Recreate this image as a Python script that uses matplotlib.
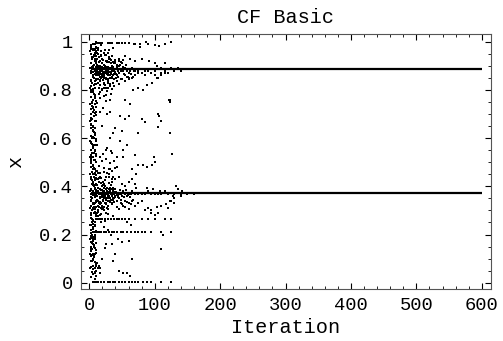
import matplotlib
matplotlib.use("Agg")
import matplotlib.pyplot as plt
from matplotlib.ticker import MultipleLocator

# ---- data ----
fixed_points = [0.885, 0.372]          # converged x values
line_start = [3, 3]
line_end = [600, 600]

# dense early column (iteration, x)
col_iter = [2,3,4,2,5,3,6,2,4,7,3,5,2,6,4,8,3,5,2,7,4,3,6,2,5,8,3,4,2,6,5,3,7,2,4,9,3,6,2,5,4,8,3,2,6,4,7,3,5,2,9,4,3,6,2,5,4,7,3,2,6,4,3,5,2,8,4,3,6,2,5,3,4,2,6,3,5,4,
            5,7,8,6,9,7,10,8,9,6,10,8,9,7,10,8,6,11,9,7,10,8,11,9,7,10,8,6,9,7,8,6,9,8,11,
            1,1,1,1,1,1,1,1,1,1,1,1,1,1,
            10,10,10,10,9,9,8,8]
col_x = [0.98,0.95,0.93,0.91,0.90,0.87,0.86,0.84,0.83,0.82,0.80,0.79,0.77,0.76,0.75,0.74,0.72,0.71,0.70,0.69,0.68,0.66,0.65,0.64,0.63,0.62,0.61,0.60,0.58,0.57,0.56,0.55,0.54,0.53,0.52,0.51,0.50,0.49,0.48,0.47,0.46,0.45,0.44,0.43,0.42,0.41,0.40,0.39,0.38,0.37,0.36,0.35,0.34,0.33,0.32,0.31,0.30,0.29,0.28,0.27,0.26,0.25,0.24,0.23,0.22,0.21,0.20,0.19,0.18,0.17,0.16,0.15,0.14,0.13,0.12,0.11,0.10,0.09,
         0.97,0.94,0.92,0.89,0.88,0.85,0.84,0.81,0.78,0.73,0.71,0.67,0.64,0.60,0.59,0.55,0.52,0.50,0.47,0.44,0.43,0.39,0.37,0.33,0.31,0.28,0.25,0.21,0.19,0.15,0.12,0.07,0.06,0.04,0.03,
         0.96,0.89,0.81,0.74,0.67,0.59,0.52,0.45,0.38,0.31,0.24,0.18,0.12,0.06,
         1.00,0.98,0.96,0.94,0.99,0.95,0.97,0.93]

col2_iter = [3,5,7,9,11,4,6,8,10,2,3,5,7,9,11,4,6,8,10,2,3,5,7,9,11,4,6,8,10,2,3,5,7,9,11,4,6,8,10,2,3,5,7,9,11,4,6,8,10,2,3,5,7,9,11,4,6,8,10,2,
             6,2,9,4,11,7,3,10,5,8,6,2,9,4,11,7,3,10,5,8,6,2,9,4,11,7,3,10,5,8,6,2,9,4,11,7,3,10,5,8,6,2,9,4,11,7,3,10,5,8,6,2,9,4,11,7,3,10,5,8]
col2_x = [0.985,0.965,0.945,0.925,0.915,0.895,0.875,0.865,0.845,0.835,0.815,0.795,0.785,0.765,0.755,0.735,0.725,0.705,0.695,0.675,0.655,0.645,0.625,0.615,0.595,0.575,0.565,0.545,0.535,0.515,0.505,0.485,0.475,0.455,0.435,0.425,0.405,0.395,0.375,0.355,0.345,0.325,0.315,0.295,0.285,0.265,0.245,0.235,0.215,0.205,0.185,0.175,0.155,0.145,0.125,0.115,0.095,0.085,0.075,0.065,
          0.99,0.97,0.955,0.935,0.92,0.905,0.88,0.87,0.855,0.825,0.805,0.79,0.775,0.745,0.73,0.715,0.685,0.67,0.635,0.62,0.605,0.585,0.57,0.54,0.525,0.51,0.495,0.465,0.45,0.43,0.415,0.385,0.365,0.35,0.335,0.305,0.29,0.275,0.255,0.24,0.225,0.195,0.18,0.165,0.135,0.105,0.09,0.07,0.055,0.045,0.035,0.025,0.015,0.045,0.08,0.11,0.14,0.165,0.19,0.2]

# cluster around the upper fixed point
up_iter = [12,14,15,17,18,20,22,13,16,19,21,23,25,26,28,30,24,27,29,31,33,35,32,34,36,38,40,42,44,46,37,39,41,43,45,48,50,52,55,58,60,62,65,68,70,
           12,14,16,18,11,13,15,17,20,22,24,26,28,11,13,15,17,19,21,23,25,27,29,31,33,35,20,30,40,45,50,55,60,65,70,75,80,85,90,95,100,105,110,115,120,125,130,135,140,100,110,75,85,
           31,38,45,54,62,70,81,91,101,116,104,67,75,82,88,96,104,109,115,22,29,17,25,32,55,62,122,124]
up_x = [0.88,0.86,0.89,0.87,0.85,0.88,0.86,0.90,0.84,0.91,0.87,0.89,0.87,0.85,0.88,0.86,0.90,0.92,0.84,0.89,0.87,0.88,0.85,0.90,0.86,0.88,0.87,0.89,0.88,0.87,0.83,0.91,0.85,0.86,0.90,0.88,0.88,0.88,0.89,0.88,0.87,0.88,0.89,0.88,0.88,
        0.93,0.95,0.92,0.94,0.86,0.83,0.81,0.82,0.80,0.83,0.82,0.81,0.83,0.91,0.87,0.86,0.90,0.86,0.84,0.85,0.92,0.88,0.87,0.86,0.91,0.85,0.93,0.93,0.92,0.93,0.91,0.86,0.85,0.85,0.86,0.87,0.87,0.86,0.88,0.87,0.86,0.85,0.87,0.88,0.87,0.89,0.88,0.89,0.88,0.88,0.89,0.88,0.88,
        0.93,0.91,0.92,0.94,0.93,0.92,0.93,0.92,0.91,0.91,0.90,0.80,0.81,0.80,0.82,0.83,0.85,0.86,0.87,0.81,0.81,0.79,0.78,0.76,0.76,0.74,0.76,0.75]

up2_iter = [6,8,10,12,14,16,18,20,22,24,26,28,30,32,34,36,38,
            7,9,11,13,15,17,19,21,23,25,27,29,31,33,35,37,39,41,43,
            6,9,12,15,18,21,24,27,30,33,36,
            8,11,14,17,20,23,26,29,32,35,38,
            10,14,18,22,26,30,34,
            12,16,20,24,28,
            13,17,21,25,29]
up2_x = [0.875,0.865,0.895,0.905,0.875,0.855,0.895,0.865,0.905,0.875,0.885,0.845,0.915,0.875,0.855,0.895,0.865,
         0.905,0.925,0.845,0.885,0.915,0.865,0.895,0.875,0.855,0.895,0.865,0.895,0.875,0.865,0.895,0.885,0.875,0.865,0.895,
         0.935,0.945,0.955,0.935,0.96,0.925,0.945,0.915,0.935,0.925,0.915,
         0.835,0.825,0.845,0.835,0.855,0.825,0.845,0.835,0.825,0.855,0.845,
         0.975,0.965,0.985,0.955,0.945,0.965,0.94,
         0.86,0.88,0.86,0.87,0.86,
         0.89,0.88,0.89,0.88,0.89]

# spray of transients above/below the upper fixed point
up3_iter = [44,47,49,51,53,56,59,42,46,50,54,57,61,64,67,40,43,48,52,15,19,23,27,31,35,12,16,21,26,33,38,9,14,18,24,29,36]
up3_x = [0.855,0.905,0.845,0.895,0.865,0.905,0.855,0.835,0.825,0.845,0.835,0.855,0.845,0.865,0.855,0.925,0.905,0.915,0.925,0.785,0.805,0.775,0.795,0.815,0.805,0.745,0.765,0.725,0.755,0.785,0.815,0.965,0.975,0.945,0.965,0.955,0.975]

# cluster around the lower fixed point
low_iter = [12,14,15,17,18,20,22,13,16,19,21,23,25,26,28,30,24,27,29,31,33,35,32,34,36,38,40,42,44,46,11,13,15,17,19,21,23,25,27,12,14,16,18,11,13,15,17,19,21,23,20,22,24,26,28,30,32,34,36,38,40,42,45,48,50,52,55,58,60,63,66,70,75,80,85,90,95,100,105,110,115,120,130,140,150,160,135,140,130,125,130,
            48,52,55,60,65,70,75,80,85,90,95,100,105,110,120,50,55,60,65,70,45,40,35,30,
            72,88,98,108,133,141,128,123,118,103,95]
low_x = [0.36,0.34,0.37,0.35,0.33,0.36,0.38,0.32,0.39,0.31,0.34,0.36,0.35,0.33,0.37,0.36,0.40,0.38,0.32,0.35,0.37,0.36,0.34,0.39,0.35,0.37,0.36,0.37,0.36,0.37,0.41,0.43,0.42,0.44,0.40,0.42,0.30,0.29,0.31,0.29,0.30,0.28,0.31,0.34,0.38,0.33,0.39,0.37,0.31,0.41,0.32,0.35,0.33,0.37,0.34,0.39,0.38,0.33,0.38,0.35,0.39,0.34,0.35,0.37,0.36,0.38,0.37,0.36,0.37,0.37,0.38,0.37,0.37,0.37,0.37,0.38,0.37,0.37,0.37,0.37,0.38,0.37,0.37,0.37,0.37,0.37,0.39,0.36,0.35,0.34,0.33,
         0.33,0.32,0.34,0.33,0.34,0.32,0.33,0.34,0.30,0.31,0.29,0.28,0.29,0.32,0.31,0.41,0.40,0.42,0.43,0.41,0.44,0.43,0.42,0.44,
         0.395,0.395,0.39,0.38,0.40,0.38,0.36,0.34,0.326,0.313,0.30]

low2_iter = [6,8,10,12,14,16,18,20,22,24,26,28,30,32,34,36,38,
             7,9,11,13,15,17,19,21,23,25,27,29,31,33,35,37,39,41,43,
             6,9,12,15,18,21,24,27,30,33,36,
             8,11,14,17,20,23,26,29,32,35,38,
             10,14,18,22,26,30,34,
             12,16,20,24,28,
             13,17,21,25,29]
low2_x = [0.365,0.355,0.385,0.345,0.375,0.335,0.385,0.355,0.395,0.365,0.345,0.375,0.355,0.385,0.365,0.345,0.375,
          0.325,0.405,0.335,0.395,0.315,0.355,0.385,0.345,0.365,0.325,0.375,0.355,0.395,0.345,0.365,0.385,0.355,0.375,0.365,
          0.415,0.425,0.405,0.435,0.415,0.405,0.425,0.395,0.415,0.405,0.395,
          0.305,0.315,0.295,0.325,0.305,0.315,0.325,0.305,0.335,0.325,0.335,
          0.445,0.455,0.435,0.46,0.44,0.45,0.43,
          0.36,0.35,0.37,0.36,0.35,
          0.38,0.37,0.38,0.39,0.36]

# spray of transients around the lower fixed point
low3_iter = [44,47,49,51,53,56,59,62,42,46,50,54,57,61,64,67,15,19,23,27,31,35,39,12,16,21,26,33,38,14,18,24,29,36]
low3_x = [0.355,0.385,0.345,0.375,0.355,0.385,0.365,0.355,0.315,0.305,0.325,0.315,0.335,0.305,0.325,0.345,0.485,0.505,0.475,0.455,0.495,0.465,0.475,0.465,0.455,0.535,0.515,0.545,0.505,0.275,0.285,0.255,0.285,0.275]

# horizontal runs of repeated values
row_iter = [10,12,14,16,18,20,28,30,33,35,42,45,50,55,60,70,78,
            10,13,16,20,24,28,33,38,42,46,50,55,60,70,80,90,100,115,125,
            12,15,18,22,26,30,34,38,42,48,52,58,64,70,75,80,85,95,110,125,
            5,8,11,14,18,22,28,32,36,40,45,50,55,60,65,70,75,82,88,95,110,125]
row_x = [0.995,0.995,0.995,0.995,0.995,0.995,0.995,0.995,0.995,0.995,0.995,0.995,0.995,0.995,0.995,0.99,0.99,
         0.265,0.265,0.265,0.265,0.265,0.265,0.265,0.265,0.265,0.265,0.265,0.265,0.265,0.265,0.265,0.265,0.265,0.265,0.265,
         0.212,0.212,0.212,0.212,0.212,0.212,0.212,0.212,0.212,0.212,0.212,0.212,0.212,0.212,0.212,0.212,0.212,0.212,0.212,0.212,
         0.003,0.003,0.003,0.003,0.003,0.003,0.003,0.003,0.003,0.003,0.003,0.003,0.003,0.003,0.003,0.003,0.003,0.003,0.003,0.003,0.003,0.003]

# scattered transient points
sc_iter = [105,107,110,105,123,123,123,126,99,100,133,110,65,37,40,60,24,17,75,80,85,47,55,61,37,32,47,51,27,35,42,52,57,70,75,82,65,72,88,96,42,32,37,
           17,19,32,27,12,17,86,107,125,90,100,115,68,78,58,45,52,62,20,26,33,44,28,18,22,15,10,12,14,16,30,40,50,112,58,63,50,35,25]
sc_x = [0.70,0.69,0.67,0.645,0.76,0.75,0.62,0.535,0.52,0.50,0.40,0.14,0.10,0.09,0.12,0.175,0.145,0.06,0.62,0.68,0.665,0.69,0.68,0.69,0.62,0.60,0.59,0.55,0.56,0.54,0.52,0.52,0.57,0.53,0.49,0.49,0.47,0.45,0.48,0.49,0.48,0.47,0.44,
        0.71,0.65,0.71,0.70,0.57,0.52,0.997,0.983,0.997,0.99,0.985,0.99,0.99,0.98,0.04,0.05,0.04,0.03,0.10,0.16,0.20,0.18,0.22,0.25,0.23,0.07,0.05,0.08,0.06,0.04,0.47,0.64,0.63,0.20,0.25,0.24,0.17,0.16,0.55]

# ---- figure ----
plt.rcParams['font.family'] = ['Liberation Mono', 'DejaVu Sans Mono']
fig = plt.figure(figsize=(5.03, 3.41), dpi=100)
ax = fig.add_axes([0.161, 0.1525, 0.815, 0.7478])

for fp, s, e in zip(fixed_points, line_start, line_end):
    ax.hlines(fp, s, e, color='black', linewidth=1.6)

groups = [(col_iter, col_x), (col2_iter, col2_x), (up_iter, up_x), (up2_iter, up2_x), (up3_iter, up3_x),
          (low_iter, low_x), (low2_iter, low2_x), (low3_iter, low3_x), (row_iter, row_x), (sc_iter, sc_x)]
for xi, yi in groups:
    ax.scatter(xi, yi, s=3.2, marker='s', color='black', linewidths=0)

ax.set_xlim(-12.7, 614)
ax.set_ylim(-0.026, 1.032)
ax.xaxis.set_major_locator(MultipleLocator(100))
ax.xaxis.set_minor_locator(MultipleLocator(20))
ax.yaxis.set_minor_locator(MultipleLocator(0.05))
ax.set_yticks([0, 0.2, 0.4, 0.6, 0.8, 1.0])
ax.set_yticklabels(['0', '0.2', '0.4', '0.6', '0.8', '1'])
ax.tick_params(which='both', direction='in', top=True, right=True, labelsize=13.5, pad=6)
ax.tick_params(which='major', length=4, width=0.8)
ax.tick_params(which='minor', length=2, width=0.6)
for sp in ax.spines.values():
    sp.set_linewidth(0.8)
    sp.set_color('#555555')

ax.set_title('CF Basic', fontsize=14.5, pad=8)
ax.set_xlabel('Iteration', fontsize=14.5, labelpad=3)
ax.set_ylabel('x', fontsize=14.5, labelpad=10)

fig.savefig('out.png', dpi=100)
